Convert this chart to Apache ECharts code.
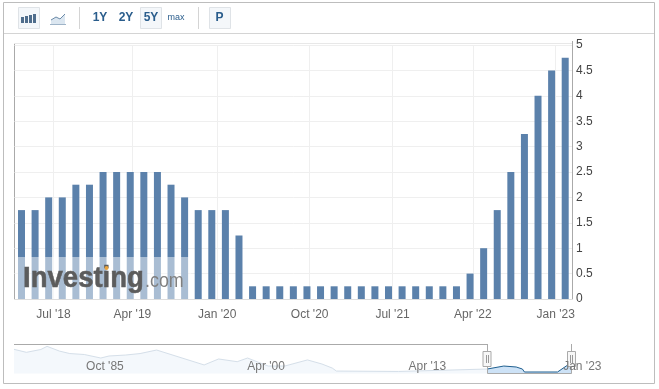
<!DOCTYPE html>
<html><head><meta charset="utf-8">
<style>html,body{margin:0;padding:0;background:#fff}#c{width:659px;height:389px}</style>
<script src="https://cdn.jsdelivr.net/npm/echarts@6/dist/echarts.min.js"></script>
</head><body><div id="c"></div>
<script>
// Main chart: one bar per rate decision, equally spaced (ordinal)
const rateValues = [1.75,1.75,2,2,2.25,2.25,2.5,2.5,2.5,2.5,2.5,2.25,2,1.75,1.75,1.75,1.25,
  0.25,0.25,0.25,0.25,0.25,0.25,0.25,0.25,0.25,0.25,0.25,0.25,0.25,0.25,0.25,0.25,
  0.5,1,1.75,2.5,3.25,4,4.5,4.75];
const xTickPositions = [2.35,8.16,14.4,21.2,27.3,33.2,39.3];
const xTickLabels = ["Jul '18","Apr '19","Jan '20","Oct '20","Jul '21","Apr '22","Jan '23"];
// Navigator: long history
const navAllIdx = [0,6,13,16,22,27,34,42,46,54,61,69,92,99,108,113,123,131,142,149,154,156,186,229];
const navAllVal = [17.8,15.6,17.7,20,16.5,14.7,14,11.4,12.9,13.6,14.7,17.3,6.3,10.7,8.7,11.4,5.5,5.5,10,7,4,1.8,1.5,3.3];
const navSelIdx = [229,237,243,246,247,263,268,270];
const navSelVal = [3.3,5.5,4.8,3.3,1.1,1.1,6.3,7];
const navTickPositions = [44,122,200,275];
const navTickLabels = ["Oct '85","Apr '00","Apr '13","Jan '23"];

const FONT = '"Liberation Sans", Arial, sans-serif';
const pair = (a,b)=>a.map((v,i)=>[v,b[i]]);
const labelOf = (pos,labels)=>v=>{const i=pos.findIndex(p=>Math.abs(p-v)<1e-6);return i<0?'':labels[i];};

const border='#bdbdbd', handle='#aaaaaa';
const btn=(x,y,w,h,fill)=>({type:'rect',shape:{x:x+.5,y:y+.5,width:w,height:h},style:{fill:fill,stroke:'#dfe3e7',lineWidth:1},silent:true});
const ln=(x1,y1,x2,y2,c,w,z)=>({type:'line',z:z||0,shape:{x1,y1,x2,y2},style:{stroke:c,lineWidth:w||1},silent:true});
const rc=(x,y,w,h,c)=>({type:'rect',shape:{x,y,width:w,height:h},style:{fill:c},silent:true});
const tx=(x,y,t,size,c,weight,align)=>({type:'text',x,y,style:{text:t,font:(weight||'normal')+' '+size+'px '+FONT,fill:c,textAlign:align||'center',textVerticalAlign:'middle'},silent:true});

const chart=echarts.init(document.getElementById('c'),null,{renderer:'canvas'});
chart.setOption({
  animation:false,
  backgroundColor:'#fff',
  textStyle:{fontFamily:FONT},
  grid:[
    {left:14.5,top:45,width:557.5,height:254,containLabel:false},
    {left:14,top:345,width:599.33,height:28.5}
  ],
  xAxis:[
    {type:'value',gridIndex:0,min:-0.515,max:40.5,
     axisLine:{show:true,onZero:false,lineStyle:{color:'#dddddd'}},
     axisTick:{show:false,customValues:xTickPositions},
     splitLine:{show:true,lineStyle:{color:'#efefef'}},
     axisLabel:{customValues:xTickPositions,formatter:labelOf(xTickPositions,xTickLabels),color:'#666',fontSize:12,margin:10,fontFamily:FONT,hideOverlap:false}},
    {type:'value',gridIndex:1,min:0,max:290,
     axisLine:{show:false},axisTick:{show:false,customValues:navTickPositions},splitLine:{show:false},
     axisLabel:{customValues:navTickPositions,formatter:labelOf(navTickPositions,navTickLabels),color:'#777',fontSize:12,inside:true,margin:1,fontFamily:FONT,hideOverlap:false},z:10}
  ],
  yAxis:[
    {type:'value',gridIndex:0,position:'right',min:0,max:5,interval:0.5,
     axisLine:{show:true,onZero:false,lineStyle:{color:'#aaaaaa'}},axisTick:{show:false},
     splitLine:{show:true,lineStyle:{color:'#efefef'}},
     axisLabel:{color:'#444',fontSize:12,margin:4,padding:[2,0,0,0],fontFamily:FONT,formatter:v=>String(v)}},
    {type:'value',gridIndex:1,min:0,max:21,show:false,splitLine:{show:false}}
  ],
  series:[
    {type:'bar',xAxisIndex:0,yAxisIndex:0,data:rateValues.map((v,i)=>[i,v]),barWidth:7,itemStyle:{color:'#5b81ab'},z:3},
    {type:'line',xAxisIndex:1,yAxisIndex:1,data:pair(navAllIdx,navAllVal),showSymbol:false,smooth:false,
     lineStyle:{color:'#d5dfe9',width:1},areaStyle:{color:'#f4f8fc',opacity:1},z:2},
    {type:'line',xAxisIndex:1,yAxisIndex:1,data:pair(navSelIdx,navSelVal),showSymbol:false,smooth:false,
     lineStyle:{color:'#1f5f8f',width:1},areaStyle:{color:'#cde2f6',opacity:1},z:3}
  ],
  graphic:{elements:[
    {type:'rect',shape:{x:3.5,y:2.5,width:651,height:381},style:{fill:'none',stroke:border,lineWidth:1},silent:true,z:-1},
    ln(4,33.5,654,33.5,'#d4d4d4'),
    ln(14.5,43,14.5,299,'#aaaaaa'),
    ln(14,43.5,572,43.5,'#e8e8e8'),
    ln(572.5,41,572.5,45,'#aaaaaa'),
    btn(18,7,21,21,'#f4f7fa'),
    rc(21,17,3,6,'#4f6d8c'),rc(25,16,3,7,'#4f6d8c'),rc(29,15,3,8,'#4f6d8c'),rc(33,14,3,9,'#4f6d8c'),
    {type:'polygon',shape:{points:[[51,24],[51,20],[56,17],[60,19],[65,14],[65,24]]},style:{fill:'#dbe6f0'},silent:true},
    {type:'polyline',shape:{points:[[51,20],[56,17],[60,19],[65,14]]},style:{stroke:'#6b8aa8',fill:'none',lineWidth:1},silent:true},
    ln(50,24.5,66,24.5,'#9fb4c8'),
    ln(79.5,7,79.5,29,'#d4d4d4'),
    tx(100,18,'1Y',12,'#2a5d8c','bold'),tx(126,18,'2Y',12,'#2a5d8c','bold'),
    btn(140,7,21,21,'#f4f7fa'),tx(151,18,'5Y',12,'#2a5d8c','bold'),
    tx(176,18,'max',9,'#2a5d8c'),
    ln(198.5,7,198.5,29,'#d4d4d4'),
    btn(209,7,21,21,'#f4f7fa'),tx(219.5,18,'P',12,'#2a5d8c','bold'),
    {type:'rect',shape:{x:15,y:257,width:176,height:42},style:{fill:'rgba(255,255,255,0.48)'},silent:true,z:20},
    {type:'text',x:23,y:279,scaleX:0.95,z:21,silent:true,style:{text:'Investing',font:'bold 29px '+FONT,fill:'#5c5c5c',stroke:'#5c5c5c',lineWidth:0.5,textAlign:'left',textVerticalAlign:'middle'}},
    {type:'text',x:145,y:281,scaleX:0.85,z:21,silent:true,style:{text:'.com',font:'normal 21px '+FONT,fill:'#808080',textAlign:'left',textVerticalAlign:'middle'}},
    {type:'circle',shape:{cx:106.5,cy:268,r:2},style:{fill:'#e8a33d'},silent:true,z:22},
    ln(14,344.5,487.5,344.5,handle),
    ln(487.5,344,487.5,373.5,handle,1,4),
    ln(487.5,373.5,571.5,373.5,handle,1,4),
    ln(571.5,344,571.5,373.5,handle,1,4),
    {type:'rect',z:5,shape:{x:483,y:351.5,width:8,height:15},style:{fill:'#f7f7f7',stroke:handle},silent:true},
    ln(486.5,355,486.5,363,'#999',1,6),ln(488.5,355,488.5,363,'#999',1,6),
    {type:'rect',z:5,shape:{x:567.5,y:351.5,width:8,height:15},style:{fill:'#f7f7f7',stroke:handle},silent:true},
    ln(570.5,355,570.5,363,'#999',1,6),ln(572.5,355,572.5,363,'#999',1,6)
  ]}
});
</script></body></html>
